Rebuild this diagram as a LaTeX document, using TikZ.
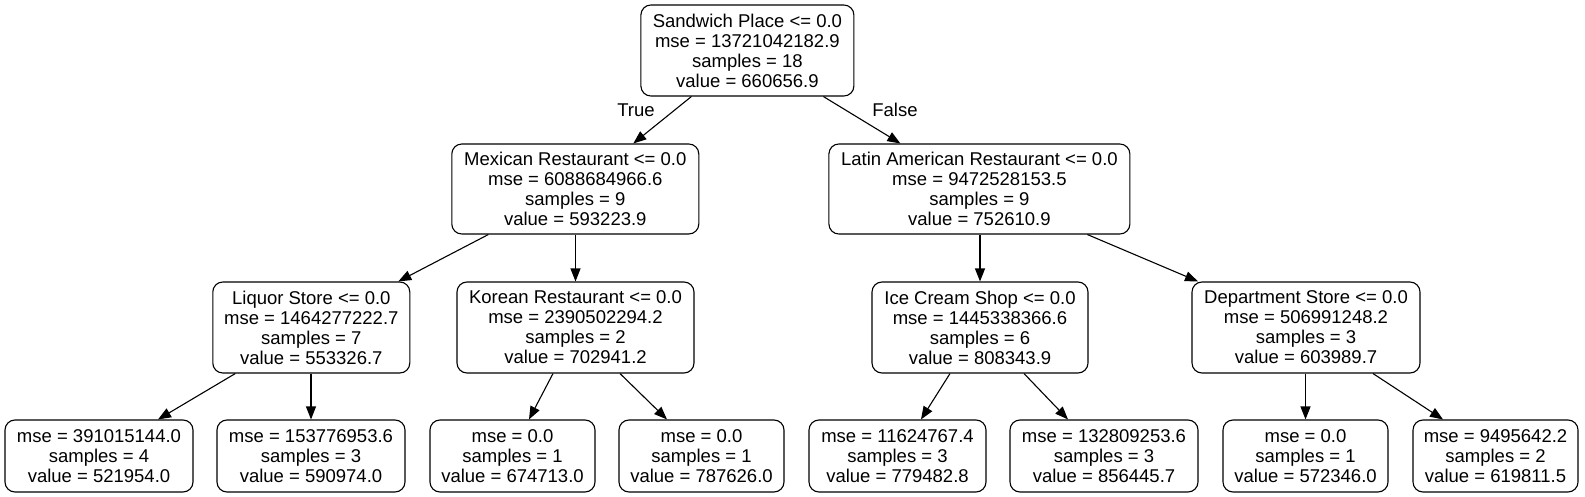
\documentclass[tikz,border=0pt]{standalone}
\usepackage{fontspec}
\setmainfont{Liberation Sans}
\usetikzlibrary{arrows.meta}
\tikzset{
  tnode/.style={draw, rounded corners=10pt, line width=1.1pt, align=center, inner sep=0pt,
    font=\fontsize{18.5}{20}\selectfont},
  conn/.style={-{Triangle[length=13pt,width=10pt]}, line width=1.1pt},
  elabel/.style={font=\fontsize{18.5}{20}\selectfont, inner sep=0pt}
}
\begin{document}
\begin{tikzpicture}
\fill[white] (0,0) rectangle (1585pt,-497pt);
\useasboundingbox (0,0) rectangle (1585pt,-497pt);
% level 0
\node[tnode, minimum width=213pt, minimum height=91pt] (root) at (747.4pt,-50.5pt)
  {Sandwich Place <= 0.0\\mse = 13721042182.9\\samples = 18\\value = 660656.9};
% level 1
\node[tnode, minimum width=247pt, minimum height=90pt] (mex) at (575.3pt,-189pt)
  {Mexican Restaurant <= 0.0\\mse = 6088684966.6\\samples = 9\\value = 593223.9};
\node[tnode, minimum width=301pt, minimum height=90pt] (lat) at (979.4pt,-189pt)
  {Latin American Restaurant <= 0.0\\mse = 9472528153.5\\samples = 9\\value = 752610.9};
% level 2
\node[tnode, minimum width=197pt, minimum height=91pt] (liq) at (311.3pt,-327.5pt)
  {Liquor Store <= 0.0\\mse = 1464277222.7\\samples = 7\\value = 553326.7};
\node[tnode, minimum width=237pt, minimum height=91pt] (kor) at (575.5pt,-327.5pt)
  {Korean Restaurant <= 0.0\\mse = 2390502294.2\\samples = 2\\value = 702941.2};
\node[tnode, minimum width=216pt, minimum height=91pt] (ice) at (980pt,-327.5pt)
  {Ice Cream Shop <= 0.0\\mse = 1445338366.6\\samples = 6\\value = 808343.9};
\node[tnode, minimum width=228pt, minimum height=91pt] (dep) at (1306pt,-327.5pt)
  {Department Store <= 0.0\\mse = 506991248.2\\samples = 3\\value = 603989.7};
% leaves
\node[tnode, minimum width=188pt, minimum height=72pt] (l1) at (99pt,-456pt)
  {mse = 391015144.0\\samples = 4\\value = 521954.0};
\node[tnode, minimum width=188pt, minimum height=72pt] (l2) at (311pt,-456pt)
  {mse = 153776953.6\\samples = 3\\value = 590974.0};
\node[tnode, minimum width=165pt, minimum height=72pt] (l3) at (512.5pt,-456pt)
  {mse = 0.0\\samples = 1\\value = 674713.0};
\node[tnode, minimum width=165pt, minimum height=72pt] (l4) at (701.5pt,-456pt)
  {mse = 0.0\\samples = 1\\value = 787626.0};
\node[tnode, minimum width=177pt, minimum height=72pt] (l5) at (897.5pt,-456pt)
  {mse = 11624767.4\\samples = 3\\value = 779482.8};
\node[tnode, minimum width=188pt, minimum height=72pt] (l6) at (1104pt,-456pt)
  {mse = 132809253.6\\samples = 3\\value = 856445.7};
\node[tnode, minimum width=165pt, minimum height=72pt] (l7) at (1305.5pt,-456pt)
  {mse = 0.0\\samples = 1\\value = 572346.0};
\node[tnode, minimum width=165pt, minimum height=72pt] (l8) at (1495.5pt,-456pt)
  {mse = 9495642.2\\samples = 2\\value = 619811.5};
% edges
\draw[conn] ([xshift=-56pt]root.south) -- ([xshift=58pt]mex.north);
\draw[conn] ([xshift=76pt]root.south) -- ([xshift=-79pt]lat.north);
\node[elabel] (lt) at (636pt,-110pt) {True};
\node[elabel] (lf) at (895pt,-110pt) {False};
\draw[conn] ([xshift=-87pt]mex.south) -- ([xshift=87pt]liq.north);
\draw[conn] (kor.north |- mex.south) -- (kor.north);
\draw[conn] (ice.north |- lat.south) -- (ice.north);
\draw[conn] ([xshift=108pt]lat.south) -- ([xshift=-108pt]dep.north);
\draw[conn] ([xshift=-76pt]liq.south) -- ([xshift=59pt]l1.north);
\draw[conn] (l2.north |- liq.south) -- (l2.north);
\draw[conn] ([xshift=-22.5pt]kor.south) -- ([xshift=16.5pt]l3.north);
\draw[conn] ([xshift=44.5pt]kor.south) -- ([xshift=-34.5pt]l4.north);
\draw[conn] ([xshift=-30pt]ice.south) -- ([xshift=23.5pt]l5.north);
\draw[conn] ([xshift=44pt]ice.south) -- ([xshift=-36pt]l6.north);
\draw[conn] (l7.north |- dep.south) -- (l7.north);
\draw[conn] ([xshift=67pt]dep.south) -- ([xshift=-52.5pt]l8.north);
\end{tikzpicture}
\end{document}
